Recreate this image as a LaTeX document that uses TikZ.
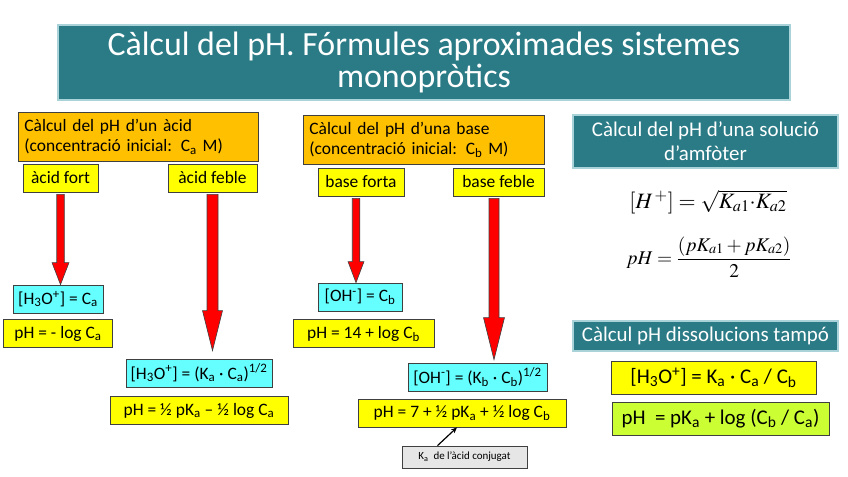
\documentclass[tikz,border=0pt]{standalone}
\usepackage{mathptmx}
\usepackage[no-math]{fontspec}
\setmainfont{Carlito}
\usetikzlibrary{arrows.meta,calc,positioning}
\definecolor{Teal}{HTML}{2A7B86}
\definecolor{TealEdge}{HTML}{A9D3D9}
\definecolor{Amber}{HTML}{FFC000}
\definecolor{Lemon}{HTML}{FFFF00}
\definecolor{Aqua}{HTML}{66FFFF}
\definecolor{Lime}{HTML}{CCFF33}
\definecolor{Fog}{HTML}{E6E6E6}
\definecolor{Ink}{HTML}{404040}

% thick red arrow: start, tip, half shaft, half head, head length
\newcommand{\fatarrow}[5]{%
  \draw[fat] let \p1=(#1), \p2=(#2) in
    (\x1-#3,\y1) -- (\x1+#3,\y1) -- (\x1+#3,\y2+#5) -- (\x1+#4,\y2+#5) -- (\x1,\y2)
    -- (\x1-#4,\y2+#5) -- (\x1-#3,\y2+#5) -- cycle;}

\begin{document}
\begin{tikzpicture}[x=1bp,y=-1bp, inner sep=0pt,
    hdr/.style={fill=Teal,draw=TealEdge,line width=1.2bp,text=white,align=center},
    case/.style={fill=Amber,draw=Ink,line width=0.8bp,align=left,text width=228bp,inner xsep=6bp,minimum height=49bp,font=\fontsize{17.5}{20.5}\selectfont},
    kind/.style={fill=Lemon,draw=Ink,line width=0.8bp,minimum height=28bp,font=\fontsize{17.5}{20}\selectfont},
    conc/.style={kind,fill=Aqua},
    frm/.style={kind,font=\fontsize{17.5}{20}\selectfont},
    tbox/.style={kind,minimum height=33bp,font=\fontsize{21}{24}\selectfont},
    fat/.style={fill=red,draw=Ink,line width=0.6bp}]
  \useasboundingbox (0,0) rectangle (848,477);

  \node[hdr,minimum width=732bp,minimum height=75bp,font=\fontsize{34}{33}\selectfont] (title) at (424,62.5)
    {Càlcul del pH. Fórmules aproximades sistemes\\monopròtics};

  % acids
  \node[case,anchor=north west] (acid) at (18,112) {Càlcul del pH d’un àcid\\(concentració inicial: C\textsubscript{a} M)};
  \node[kind,minimum width=75bp] (fort) at (60.5,178) {àcid fort};
  \node[kind,minimum width=89bp] (feble) at (212.5,178) {àcid feble};
  \node[frm,fill=Aqua,minimum width=90bp] (hfort) at (58,299) {[H\textsubscript{3}O\textsuperscript{+}] = C\textsubscript{a}};
  \node[frm,minimum width=109bp,below=6bp of hfort] (phfort) {pH = - log C\textsubscript{a}};
  \node[frm,fill=Aqua,minimum width=146bp] (hfeble) at (199,373) {[H\textsubscript{3}O\textsuperscript{+}] = (K\textsubscript{a} · C\textsubscript{a})\textsuperscript{1/2}};
  \node[frm,minimum width=178bp,below=9bp of hfeble] (phfeble) {pH = ½ pK\textsubscript{a} – ½ log C\textsubscript{a}};

  % bases
  \node[case,anchor=north west,text width=229bp] (base) at (303,115) {Càlcul del pH d’una base\\(concentració inicial: C\textsubscript{b} M)};
  \node[kind,minimum width=86bp] (forta) at (361,182) {base forta};
  \node[kind,minimum width=91bp] (bfeble) at (498.5,182) {base feble};
  \node[frm,fill=Aqua,minimum width=84bp] (ohforta) at (360,297) {[OH\textsuperscript{-}] = C\textsubscript{b}};
  \node[frm,minimum width=141bp,below=8bp of ohforta,xshift=3.5bp] (phforta) {pH = 14 +  log C\textsubscript{b}};
  \node[frm,fill=Aqua,minimum width=139bp] (ohfeble) at (477.5,377) {[OH\textsuperscript{-}] = (K\textsubscript{b} · C\textsubscript{b})\textsuperscript{1/2}};
  \node[frm,minimum width=208bp] (phbfeble) at (462,413) {pH = 7 + ½ pK\textsubscript{a} + ½ log C\textsubscript{b}};
  \node[fill=Fog,draw=Ink,line width=0.8bp,minimum width=125bp,minimum height=22bp,font=\fontsize{11}{13}\selectfont] (conj) at (464.5,457)
    {K\textsubscript{a}\ \ de l’àcid conjugat};

  \fatarrow{$(fort.south)+(0,2)$}{hfort.north}{3.75bp}{8.5bp}{22bp}
  \fatarrow{$(feble.south)+(0,2)$}{$(hfeble.north)+(0,-8)$}{5.5bp}{10bp}{40bp}
  \fatarrow{$(forta.south)+(-5,2)$}{ohforta.north}{3.75bp}{8bp}{21bp}
  \fatarrow{$(bfeble.south)+(-4.5,2)$}{$(ohfeble.north)+(0,-3)$}{5bp}{10.5bp}{42bp}
  \draw[-{Stealth[length=6bp,width=5bp]},line width=1.2bp] ($(conj.north)+(-27,0)$) -- ($(phbfeble.south)+(-5,0)$);

  % amphoter
  \node[hdr,minimum width=265bp,minimum height=53bp,font=\fontsize{21}{24}\selectfont] (amf) at (705.5,141.5)
    {Càlcul del pH d’una solució\\d’amfòter};
  \node[font=\fontsize{22}{26}\selectfont] (hplus) at (708,202) {$[H^{\,+}]=\sqrt{K_{a1}{\cdot}K_{a2}}$};
  \node[font=\fontsize{19.5}{24}\selectfont] (phamf) at (709,257) {$pH=\displaystyle\frac{(pK_{a1}+pK_{a2})}{2}$};

  % buffer
  \node[hdr,minimum width=265bp,minimum height=30bp,font=\fontsize{21}{24}\selectfont] (tampo) at (705.5,336) {Càlcul pH dissolucions tampó};
  \node[tbox,minimum width=205bp] (htampo) at (713.5,377.5) {[H\textsubscript{3}O\textsuperscript{+}] = K\textsubscript{a} · C\textsubscript{a} / C\textsubscript{b}};
  \node[tbox,fill=Lime,minimum width=217bp] (phtampo) at (720.5,418.5) {pH\ \ = pK\textsubscript{a} + log (C\textsubscript{b} / C\textsubscript{a})};
\end{tikzpicture}
\end{document}
